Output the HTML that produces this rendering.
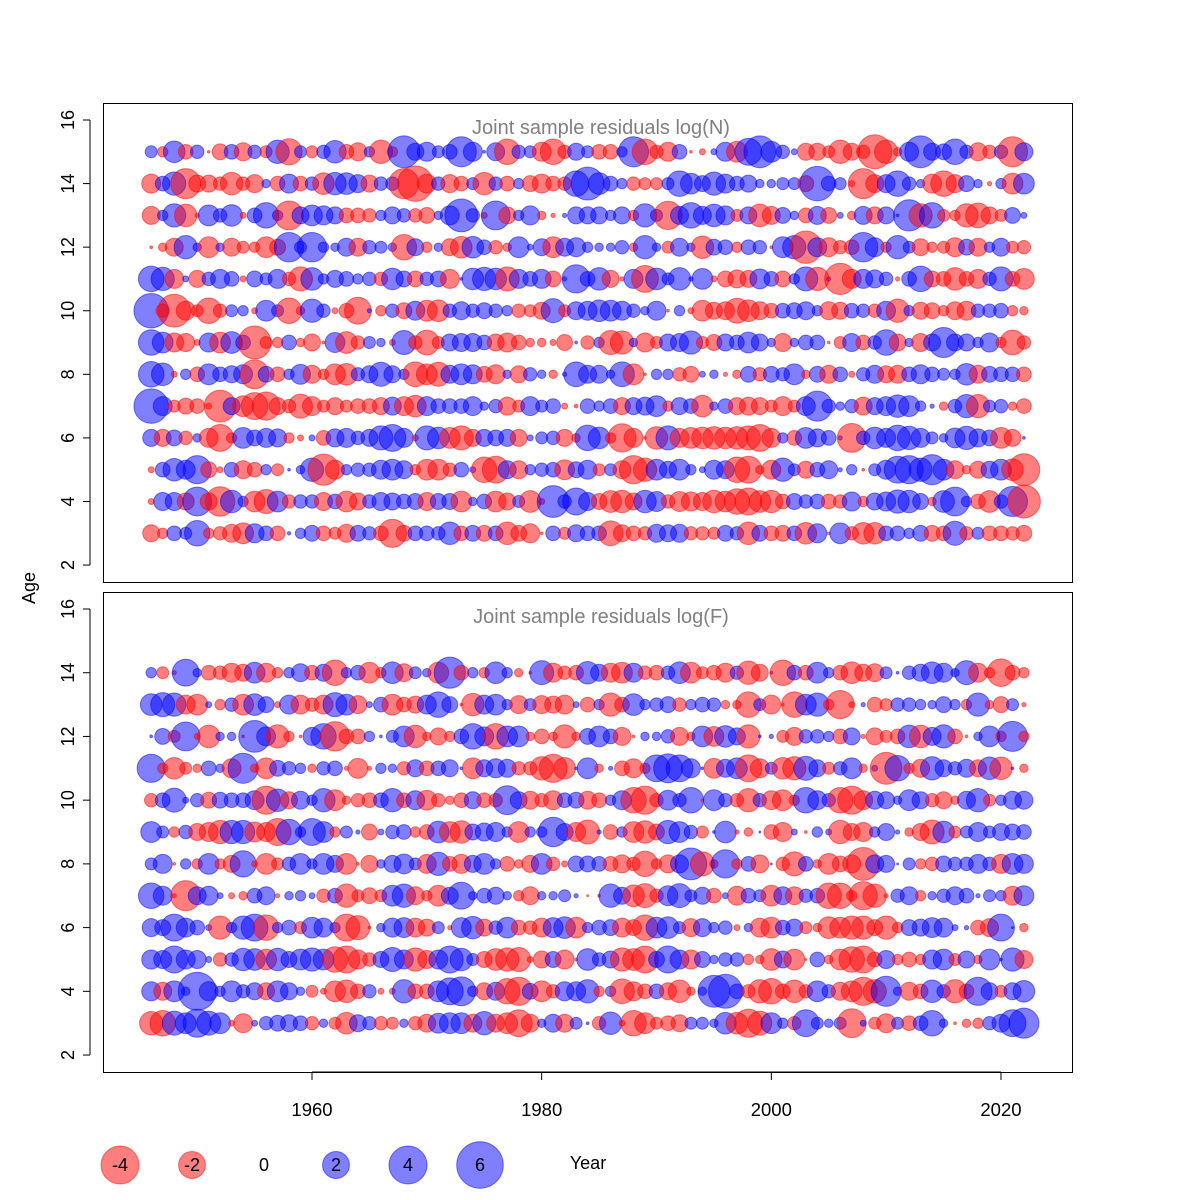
<!DOCTYPE html>
<html><head><meta charset="utf-8"><title>Joint sample residuals</title>
<style>body{margin:0;background:#fff}svg{display:block;font-family:"Liberation Sans",Arial,sans-serif}</style>
</head><body>
<svg id="chart" width="1200" height="1200" viewBox="0 0 1200 1200" xmlns="http://www.w3.org/2000/svg">
<rect x="0" y="0" width="1200" height="1200" fill="#fff"/>
<g id="panelN"></g>
<g id="panelF"></g>
<rect x="103.5" y="103.5" width="969" height="479" fill="none" stroke="#000" stroke-width="1"/>
<rect x="103.5" y="592.5" width="969" height="480" fill="none" stroke="#000" stroke-width="1"/>
<text x="601" y="134" font-size="20" fill="#808080" text-anchor="middle">Joint sample residuals log(N)</text>
<text x="601" y="623" font-size="20" fill="#808080" text-anchor="middle">Joint sample residuals log(F)</text>
<g id="axes"></g>
<text x="0" y="0" transform="translate(35,588) rotate(-90)" font-size="18" text-anchor="middle">Age</text>
<text x="588" y="1169" font-size="18" text-anchor="middle">Year</text>
<g id="legend"></g>
</svg>
<script>
const years = [1946,1947,1948,1949,1950,1951,1952,1953,1954,1955,1956,1957,1958,1959,1960,1961,1962,1963,1964,1965,1966,1967,1968,1969,1970,1971,1972,1973,1974,1975,1976,1977,1978,1979,1980,1981,1982,1983,1984,1985,1986,1987,1988,1989,1990,1991,1992,1993,1994,1995,1996,1997,1998,1999,2000,2001,2002,2003,2004,2005,2006,2007,2008,2009,2010,2011,2012,2013,2014,2015,2016,2017,2018,2019,2020,2021,2022];
const yTicks = [2,4,6,8,10,12,14,16];
const xTicks = [1960,1980,2000,2020];
const legendValues = [-4,-2,0,2,4,6];

const n15 = [0.4,-0.3,1.3,-0.6,0.5,-0.02,-0.7,0.6,-0.9,0.5,-0.4,1.5,-1.9,0.4,-0.4,0.5,1.4,-0.6,-0.9, 0.3,-1.5,-0.3,2.8,0.8,1.0,0.4,0.6,2.5,1.0,0.02,0.9,-1.8,0.5,0.4,-1.0,-1.8,-0.5,0.8,0.4, -0.6,-0.6,0.3,2.5,-1.8,-0.5,-1.0,0.6,-0.02,-0.1,0.1,1.0,-1.2,2.0,2.8,1.2,0.5,0.1,-0.8,-0.8, -0.4,-1.5,-0.8,-0.5,-3.2,-1.5,-0.2,1.0,2.8,0.8,0.7,1.8,0.5,-0.9,-0.5,0.5,-2.5,0.9];
const n14 = [-1.0,0.6,1.5,-2.5,-0.8,-0.8,-0.5,-1.4,-0.5,-0.9,0.2,-0.6,1.0,-0.6,0.5,-1.3,1.4,1.3,0.9, -0.8,0.5,0.5,-2.5,-3.5,-1.0,0.5,-0.9,-0.6,0.4,-1.4,0.5,-0.6,0.3,-0.7,-1.0,-0.6,-0.5,1.8,3.0, 1.3,0.6,0.3,-0.5,-0.4,-0.4,0.4,1.8,1.2,0.7,1.5,1.0,0.6,0.8,0.2,0.2,0.4,0.4,-0.7,3.3, 0.6,0.4,-0.1,-2.5,-0.9,0.9,1.8,0.5,0.2,-1.0,-1.8,-0.9,0.7,0.2,-0.05,0.3,-1.2,1.2];
const n13 = [-0.9,0.3,1.5,-1.4,-0.05,1.2,0.5,1.3,-0.1,0.6,1.8,0.3,-2.3,0.8,1.2,1.0,0.8,-0.6,-0.6, -0.5,0.3,0.8,0.5,-0.5,-0.7,0.2,1.0,3.0,0.5,-0.1,2.3,-0.8,0.3,1.0,-0.2,-0.05,0.05,0.8,0.8, 0.8,0.3,0.8,-0.3,1.5,0.4,-2.2,0.9,1.8,0.9,1.4,1.0,-0.4,0.8,-1.4,-0.9,0.7,0.2,-0.6,0.9, -0.7,0.1,-0.2,0.9,-0.8,0.8,0.02,2.7,-1.5,1.8,-0.4,-0.3,-1.5,-1.7,-0.8,-0.4,0.7,0.1];
const n12 = [-0.02,-0.2,-0.9,1.5,0.2,-1.2,0.2,-0.9,-0.4,-0.3,-1.2,-0.7,2.4,0.4,2.4,0.3,0.2,0.9,-0.9, 0.5,0.4,0.2,-1.8,0.8,-0.3,0.2,-0.8,-1.3,1.3,0.6,-0.5,-0.2,1.2,0.1,0.8,-1.2,0.9,1.0,0.3, 0.2,0.2,0.5,-0.2,1.5,0.2,-0.4,0.9,0.2,-1.4,0.7,0.6,-0.3,0.6,0.5,-0.02,1.2,1.5,-2.9,1.0, -1.0,-0.5,-0.6,2.4,1.0,-0.3,1.5,0.4,-0.8,-0.3,-0.4,-1.0,0.7,-0.9,0.3,0.9,-0.4,-0.5];
const n11 = [1.8,1.5,-1.0,0.1,-0.8,0.5,1.0,0.6,-0.1,0.7,0.4,1.0,-0.5,-1.6,1.4,0.3,0.8,0.6,0.3, 0.5,-0.5,1.3,0.7,-0.7,0.5,0.7,-1.0,0.02,1.3,1.5,1.3,-1.6,1.0,0.6,1.0,-0.7,0.05,2.2,0.6, 1.4,-0.8,-0.05,1.0,-2.0,1.3,0.4,1.4,0.05,1.2,-0.1,-0.7,-0.9,-0.8,1.1,0.6,-0.7,0.3,1.6,-1.5, 0.05,-2.7,-1.0,1.0,0.9,0.5,-0.05,0.6,1.8,-0.7,-0.6,-1.4,-0.6,-1.0,0.5,1.6,-0.6,-1.2];
const n10 = [3.3,-0.5,-3.0,-1.0,-0.4,-1.8,-0.5,0.4,0.3,-0.1,1.2,0.4,-1.8,-0.2,1.5,0.5,-0.1,-0.6,-2.0, 0.05,-0.3,0.5,-0.7,1.0,-1.2,-1.3,0.5,0.9,0.5,0.7,0.5,0.3,-0.5,-0.4,-0.8,1.6,-0.4,0.9,1.0, 1.3,1.2,1.0,0.5,0.2,1.0,-0.02,0.3,-0.1,-1.2,-0.8,-0.9,-1.7,-1.3,-0.9,-0.6,0.6,0.7,0.9,0.3, -0.9,-0.8,0.6,0.5,-0.5,1.0,-1.5,0.3,-0.8,-0.7,-0.3,-0.9,-1.0,0.5,0.5,0.6,-0.3,-0.2];
const n9 = [1.8,1.2,-1.0,-0.9,-0.1,1.0,-1.2,1.3,0.6,-3.0,-0.4,-0.3,0.6,-0.2,-0.8,-0.02,1.1,-1.3,-0.5, 0.4,0.2,-0.1,1.6,-0.5,-1.7,-0.4,0.8,0.9,0.9,0.6,-0.8,-1.0,-0.6,-0.2,-0.2,-0.1,-0.7,0.02,-0.5, 0.3,-1.6,-1.5,0.2,-1.0,-0.4,0.8,0.9,1.5,-0.4,-0.7,0.8,0.6,1.2,0.8,0.2,-0.9,0.2,0.6,0.6, -0.02,-0.4,0.9,-0.6,0.5,1.8,-0.8,0.2,-0.9,0.8,2.5,0.8,0.8,0.3,1.0,-0.3,-1.7,-0.5];
const n8 = [1.8,1.4,-0.1,0.3,-0.6,1.2,0.6,0.8,1.0,-2.3,0.7,-0.6,0.3,1.1,-0.9,-0.3,-1.2,-1.3,0.5, 0.8,1.6,0.8,0.3,-1.7,-1.2,-1.6,0.9,1.2,1.0,-0.7,-1.0,0.2,-0.8,0.5,0.2,-0.2,0.05,1.7,0.9, 0.9,0.2,1.7,-1.2,-0.02,0.3,0.3,-0.5,-0.7,0.1,0.2,-0.05,-0.2,0.7,-0.5,0.7,0.5,1.2,-0.2,0.7, -0.9,0.6,-0.1,0.5,0.9,-0.8,-0.9,0.6,1.0,0.6,0.4,0.3,1.3,-0.9,0.7,0.6,0.6,-0.6];
const n7 = [3.3,1.0,-0.4,-0.7,-0.6,-0.1,-2.8,0.8,-1.2,-2.0,-2.2,-0.8,-0.5,-1.6,-1.0,-0.4,-0.8,-0.4,-0.6, -0.6,-0.8,0.9,-1.0,-1.3,1.0,0.6,0.6,0.6,1.0,0.2,0.5,-0.9,-0.4,1.0,0.4,0.6,-0.1,-0.04,0.6, 0.3,0.6,-0.8,0.8,0.9,1.2,-0.3,0.8,0.6,-1.3,0.2,0.6,-0.8,-0.9,-0.8,-0.4,-1.0,-0.4,1.0,2.5, 0.5,0.2,0.5,-0.9,0.8,1.0,1.4,1.2,0.3,0.05,-0.2,0.5,1.5,-1.5,0.4,0.5,-0.2,-0.6];
const n6 = [0.8,-0.8,0.7,-0.5,0.2,-1.0,-2.0,-0.3,1.2,0.7,1.0,0.9,-0.3,-0.1,0.1,-0.6,0.9,1.0,0.5, 0.8,1.6,2.0,1.0,-0.1,1.6,1.3,-1.2,-1.6,-0.8,0.8,0.7,0.8,-0.8,0.1,0.4,0.5,-0.8,-0.2,1.8, 1.3,-0.3,-2.2,-1.0,-0.02,-1.4,1.6,-1.0,-1.2,-1.3,-1.4,-1.3,-1.4,-1.6,-2.0,-1.0,0.3,-0.6,1.2,0.9, 0.6,0.05,-2.3,0.5,1.3,1.0,1.8,1.5,1.0,0.4,0.2,1.1,1.5,0.9,0.7,-1.2,-0.8,0.02];
const n5 = [-0.1,0.6,1.4,1.0,2.2,-0.7,-0.1,0.6,-0.9,-0.6,0.3,-0.4,0.02,0.2,1.5,-2.7,-1.0,0.3,0.5, 0.5,1.0,1.2,0.9,-0.3,-1.2,-1.2,-0.5,0.6,0.1,-1.8,-2.0,0.9,-0.9,0.3,0.5,0.6,-1.1,0.7,1.0, -0.4,0.4,-0.9,-2.2,-1.5,1.2,0.8,1.2,0.3,0.1,1.0,0.9,-1.8,-2.0,-0.2,-1.0,1.5,0.4,-0.8,0.6, 0.9,0.05,0.3,-0.02,0.4,1.0,2.0,2.2,1.5,2.5,1.2,-0.9,-0.2,-0.8,0.8,1.2,-1.3,-2.8];
const n4 = [-0.1,0.9,0.9,-0.8,2.3,-0.8,-2.4,1.4,0.3,-1.2,-1.6,1.2,-0.5,0.5,0.5,-0.9,0.6,-1.2,-0.8, 0.5,0.9,0.8,0.6,0.7,-0.9,0.7,0.7,-1.2,0.2,0.6,-1.2,-0.8,0.4,-1.3,-0.1,2.8,0.5,2.0,0.9, -0.7,-1.3,-1.4,-0.8,1.4,1.1,-0.5,-1.1,-1.0,-0.9,-1.4,-1.2,-1.8,-2.0,-1.3,-1.4,-0.6,0.7,0.5,0.6, -0.6,-0.5,1.0,-0.3,0.8,1.0,1.5,1.4,0.7,-0.2,1.3,2.3,0.3,-0.6,-1.3,0.5,2.5,-3.0];
const n3 = [-0.8,-0.3,0.6,0.4,1.8,-0.3,-0.5,-0.9,-1.2,1.0,0.6,-0.6,0.03,0.3,0.7,-0.6,-0.4,-0.9,0.7, 0.5,-0.6,-2.2,-0.7,0.6,0.6,0.5,1.4,-0.6,0.7,-0.7,0.6,-1.4,-0.7,-1.0,-0.02,0.6,-0.4,0.8,0.6, 0.6,-1.7,-0.8,-0.6,-0.5,0.9,0.8,0.9,-0.5,-0.5,-0.4,0.7,0.5,-1.4,0.7,-0.6,-0.7,0.6,-1.3,1.0, -0.02,1.2,-0.5,-1.3,-1.3,0.6,0.6,0.3,0.7,-0.7,-0.6,1.6,-0.5,0.4,-0.6,-0.6,-0.5,-0.7];

const f14 = [0.3,-0.4,-0.05,2.0,0.2,-0.6,-0.5,-1.0,-0.8,1.2,-1.0,-0.3,0.3,0.9,-0.6,0.8,-1.8,0.3,0.6, -1.2,-0.3,1.3,-0.9,0.4,0.2,-1.2,2.7,-0.6,0.3,-0.3,1.3,0.3,-0.2,-0.02,1.6,-1.0,-0.5,-0.6,1.4, 0.8,-1.0,-1.2,1.0,-0.5,-0.6,0.5,1.3,-1.2,-0.4,-0.6,-1.0,0.5,-1.5,-0.8,0.02,-1.8,0.6,-0.6,1.2, 0.3,-0.6,-1.3,-0.8,-0.9,0.4,0.02,0.5,0.8,1.3,1.0,0.2,1.6,-1.0,-0.3,-2.1,-0.6,-0.3];
const f13 = [1.3,1.6,1.5,-1.0,-1.2,0.1,-0.3,0.5,-1.2,1.3,0.7,-0.1,1.0,-1.0,-0.5,-1.0,1.6,1.2,-0.9, 0.1,0.6,-1.2,-0.6,-0.8,1.0,1.8,0.7,-0.02,-1.4,1.0,1.2,0.3,-0.9,0.4,-0.9,-0.8,-1.0,0.1,-0.6, 0.3,-1.5,-0.6,1.3,0.3,0.5,0.7,-0.5,0.3,0.6,0.5,-0.2,-0.2,-1.8,0.4,-1.0,-0.02,-1.8,1.2,1.5, -0.3,-2.2,-0.1,0.05,-0.6,-0.4,0.5,0.5,0.3,0.2,0.7,0.3,-0.3,1.5,-0.2,-0.7,0.4,-0.05];
const f12 = [0.02,0.7,-0.4,2.3,-0.1,-1.4,0.2,0.2,-0.02,2.8,1.0,-1.5,-0.3,-0.02,0.9,1.8,-2.4,-0.6,-0.6, 0.3,0.02,0.4,1.2,-1.4,-0.2,-0.8,-0.3,0.6,1.8,1.0,-1.8,1.2,1.2,-0.2,-0.6,-0.2,-1.5,-0.2,0.7, 1.2,0.6,-0.9,-0.02,0.2,0.2,0.5,-0.9,-0.2,1.2,-1.1,1.3,0.8,-1.5,0.02,0.05,-0.4,-0.9,0.5,0.5, 0.3,-0.6,0.8,-0.05,-0.8,-0.4,-0.6,1.4,-1.4,0.9,1.5,-0.6,-0.02,0.2,1.2,-0.3,2.5,-0.3];
const f11 = [2.2,-0.3,-1.3,-0.4,-0.2,0.6,0.2,-1.0,2.5,-0.2,-1.2,0.7,0.5,0.3,-0.2,0.5,0.6,-0.05,-1.1, -0.05,0.3,0.2,-0.5,0.8,-0.6,0.6,0.8,0.02,-1.2,0.8,1.0,0.9,-0.5,-0.5,-1.5,-2.2,-1.3,0.02,1.2, -0.2,0.05,-0.6,-1.0,-0.3,2.0,2.3,2.0,1.0,0.02,-1.1,0.9,1.2,-2.0,-1.0,0.4,-1.3,-1.5,1.6,0.8, -0.4,0.5,1.2,-0.2,0.1,-2.8,1.8,-0.3,-0.9,1.5,0.8,0.5,0.9,-0.8,1.4,-1.4,0.02,-0.2];
const f10 = [-0.5,0.6,1.6,0.1,0.5,-0.7,0.7,0.6,0.6,1.0,-2.2,1.4,-0.8,0.9,0.3,1.5,-1.2,-0.2,-0.5, -0.6,0.6,1.5,-0.6,1.0,-1.1,-0.5,-0.2,-0.6,0.8,-0.6,-0.5,2.3,0.8,-0.9,-0.5,-1.0,0.6,0.7,-0.9, -0.6,0.3,1.0,-1.8,-2.2,-0.5,1.1,0.5,1.8,-0.02,1.2,0.5,-0.5,-1.5,0.5,-1.0,-1.2,-0.3,1.8,1.0, 0.5,-1.8,-2.2,-1.0,0.9,0.8,0.2,1.2,0.8,-0.5,-0.8,-0.2,0.9,1.5,-0.4,0.3,0.9,0.9];
const f9 = [1.2,0.4,-0.3,0.5,-0.8,-1.0,-1.5,1.5,1.5,-1.1,-1.0,-2.0,1.8,0.3,2.0,1.2,-0.3,0.4,0.05, -0.7,0.1,0.5,0.6,-0.3,-0.6,1.3,-1.2,-1.4,0.7,0.9,1.0,0.3,-1.2,0.3,0.3,2.4,0.8,-1.0,-1.6, 0.05,-0.6,0.3,-1.2,-1.4,-0.7,1.5,1.2,0.5,-0.4,0.02,1.3,-0.05,-0.2,0.01,-0.6,-1.0,0.1,-0.02,0.3, 0.1,-1.5,-0.8,-1.0,0.3,0.8,0.05,-0.2,-0.8,-1.6,1.3,-0.4,0.4,1.0,0.4,0.8,0.7,0.6];
const f8 = [0.4,1.0,-0.02,0.3,-0.3,1.2,-0.3,-0.8,1.9,-0.1,-1.2,-0.4,0.5,1.2,0.3,1.2,0.8,-1.2,-0.02, -0.8,0.2,0.8,1.1,0.4,-1.0,1.5,-0.6,-1.0,0.8,1.2,0.3,-0.6,-0.2,-0.8,1.2,-0.5,-0.1,0.7,0.7, 0.6,-0.6,-0.9,-0.5,-1.8,-0.3,-0.9,0.9,2.8,-1.6,-0.2,2.2,-0.3,0.6,-0.9,0.01,-0.5,-1.6,0.6,-0.2, -1.2,-0.7,-0.9,-3.0,0.9,0.8,0.01,0.4,-0.3,-0.5,0.7,0.5,0.5,1.0,0.5,-1.0,1.2,1.0];
const f7 = [1.8,1.0,-0.05,-2.5,0.9,1.0,0.1,-0.1,-0.2,0.6,0.9,-0.05,0.2,0.3,0.1,-0.5,0.6,-1.5,-0.4, -0.7,-0.4,1.2,1.5,-0.9,-0.3,-1.2,0.8,2.0,0.2,0.6,0.8,0.2,-0.3,-0.9,0.2,0.2,0.4,0.05,-0.01, -0.02,1.5,0.8,-1.3,-1.6,-0.5,1.1,1.6,0.4,0.8,-0.6,0.1,-1.0,0.6,0.4,-1.2,0.9,-0.9,0.5,0.6, -1.8,-1.8,-0.3,-2.2,-1.5,-0.05,0.5,0.9,-0.3,0.2,0.5,0.9,0.6,0.05,0.4,0.3,-1.0,1.1];
const f6 = [0.9,0.7,2.0,1.0,0.6,0.1,-1.5,0.3,1.5,2.0,-1.8,0.3,0.6,-0.4,1.2,1.0,0.3,-2.0,-1.6, -0.02,0.2,1.0,1.1,-1.0,-0.8,0.4,-0.05,1.1,1.4,-0.8,0.5,1.2,-0.6,-0.5,-1.0,1.1,1.3,-1.2,0.3, 0.6,0.7,-1.0,-0.7,-1.8,1.2,1.3,0.4,-0.9,0.9,0.3,0.5,-0.1,0.2,-1.0,-1.2,0.6,0.8,-0.4,-0.2, -1.3,-1.2,-1.5,-1.5,-0.7,-1.5,-0.3,0.7,0.8,1.1,1.0,0.1,0.05,-0.6,-0.9,2.0,0.01,-0.2];
const f5 = [1.0,0.9,2.0,1.0,0.9,0.1,-0.5,0.5,1.4,1.3,-1.2,1.4,0.7,1.2,1.5,1.2,-1.8,-2.0,-1.0, -0.5,0.7,1.6,1.0,-1.5,-0.9,1.0,2.0,1.4,0.4,-0.7,-1.3,-1.5,-1.6,-0.1,-0.8,0.7,-1.0,-0.02,1.3, 0.5,0.8,-1.5,-1.3,-2.0,0.7,2.0,1.0,-1.0,0.7,0.2,0.5,0.5,-0.3,-0.2,-1.3,0.8,-1.2,-0.01,0.6, -0.2,-1.2,-1.8,-2.0,-0.6,0.9,-0.3,-0.6,-0.3,1.0,1.2,-0.4,0.8,-0.2,1.2,0.02,1.5,-0.9];
const f4 = [1.0,-0.9,1.2,0.2,4.0,1.0,0.3,1.2,0.5,0.8,-0.8,1.2,0.8,0.2,-0.4,-0.1,-1.2,-1.4,-0.6, 0.5,-0.1,-0.1,1.5,-0.6,-0.6,1.2,2.0,2.3,0.3,-0.8,0.9,-1.8,-2.2,0.7,-1.2,-0.5,1.0,1.0,1.5, -0.3,0.3,-1.7,-1.0,-0.6,0.6,-0.8,-1.4,-0.2,0.2,2.8,3.2,0.6,-0.5,-1.5,-1.8,-0.6,-1.4,-0.5,1.2, 0.5,-0.9,-1.2,-2.2,-1.5,2.5,0.2,-0.9,-0.6,1.4,0.5,-1.5,-0.6,2.2,0.8,-0.4,0.8,1.3];
const f3 = [-1.5,-1.8,1.6,1.2,2.2,1.6,1.2,-0.1,-1.0,0.1,0.5,0.7,0.8,0.6,-0.5,0.2,-0.4,-1.3,0.8, 0.5,-0.5,-0.4,0.2,-0.5,-0.9,1.1,1.2,1.2,-0.9,1.5,-0.9,-1.2,-2.0,-0.9,0.2,0.9,-0.9,0.4,0.02, -0.5,1.4,-0.1,-1.8,-1.2,-0.4,-0.6,-0.8,0.4,0.4,0.2,1.3,-1.3,-2.2,-1.6,1.2,0.3,-0.5,2.0,0.4, 0.2,0.4,-2.3,0.1,-0.4,-1.0,0.4,-0.6,0.6,1.8,0.2,-0.02,-0.2,-0.3,0.5,0.9,2.0,2.5];

const nAges = [3,4,5,6,7,8,9,10,11,12,13,14,15];
const nRows = [n3,n4,n5,n6,n7,n8,n9,n10,n11,n12,n13,n14,n15];
const fAges = [3,4,5,6,7,8,9,10,11,12,13,14];
const fRows = [f3,f4,f5,f6,f7,f8,f9,f10,f11,f12,f13,f14];

const NS = 'http://www.w3.org/2000/svg';
function xScale(yr){ return 312 + (yr - 1960) * 11.483; }
function yTop(a){ return 120 + (16 - a) * 31.79; }
function yBot(a){ return 609 + (16 - a) * 31.86; }
function rScale(v){ return 9.5 * Math.sqrt(Math.abs(v)); }
function mk(tag, attrs){ const e = document.createElementNS(NS, tag); for (const k in attrs) e.setAttribute(k, attrs[k]); return e; }
function col(v){ return v < 0 ? 'rgba(255,0,0,0.5)' : 'rgba(0,0,255,0.5)'; }

function drawPanel(g, ages, rows, yf, prefix){
  ages.forEach((a, i) => {
    rows[i].forEach((v, j) => {
      if (v === 0) return;
      const c = mk('circle', {cx: xScale(years[j]).toFixed(1), cy: yf(a).toFixed(1), r: rScale(v).toFixed(2), fill: col(v), stroke: col(v), 'stroke-width': 1});
      
      
      g.appendChild(c);
    });
  });
}
drawPanel(document.getElementById('panelN'), nAges, nRows, yTop, 'logN');
drawPanel(document.getElementById('panelF'), fAges, fRows, yBot, 'logF');

const ax = document.getElementById('axes');
[[yTop, 'logN'], [yBot, 'logF']].forEach(([yf, p]) => {
  const line = mk('line', {x1: 90, x2: 90, y1: yf(16), y2: yf(2), stroke: '#000'});
  
  
  ax.appendChild(line);
  yTicks.forEach(t => {
    const tk = mk('line', {x1: 83, x2: 90, y1: yf(t), y2: yf(t), stroke: '#000'});
    
    
    ax.appendChild(tk);
    const tx = mk('text', {transform: 'translate(74,' + yf(t) + ') rotate(-90)', 'text-anchor': 'middle', 'font-size': 18});
    
    
    tx.textContent = t;
    ax.appendChild(tx);
  });
});
const xl = mk('line', {x1: xScale(xTicks[0]), x2: xScale(xTicks[xTicks.length-1]), y1: 1072, y2: 1072, stroke: '#000'});


ax.appendChild(xl);
xTicks.forEach(t => {
  const tk = mk('line', {x1: xScale(t), x2: xScale(t), y1: 1072, y2: 1080, stroke: '#000'});
  
  
  ax.appendChild(tk);
  const tx = mk('text', {x: xScale(t), y: 1116, 'text-anchor': 'middle', 'font-size': 18.5});
  
  
  tx.textContent = t;
  ax.appendChild(tx);
});

const lg = document.getElementById('legend');
legendValues.forEach((v, i) => {
  const cx = 120 + i * 72;
  if (v !== 0) {
    const c = mk('circle', {cx: cx, cy: 1165, r: rScale(v).toFixed(2), fill: col(v), stroke: col(v)});
    
    
    lg.appendChild(c);
  }
  const t = mk('text', {x: cx, y: 1171, 'text-anchor': 'middle', 'font-size': 18});
  
  
  t.textContent = v;
  lg.appendChild(t);
});
</script>
</body></html>
